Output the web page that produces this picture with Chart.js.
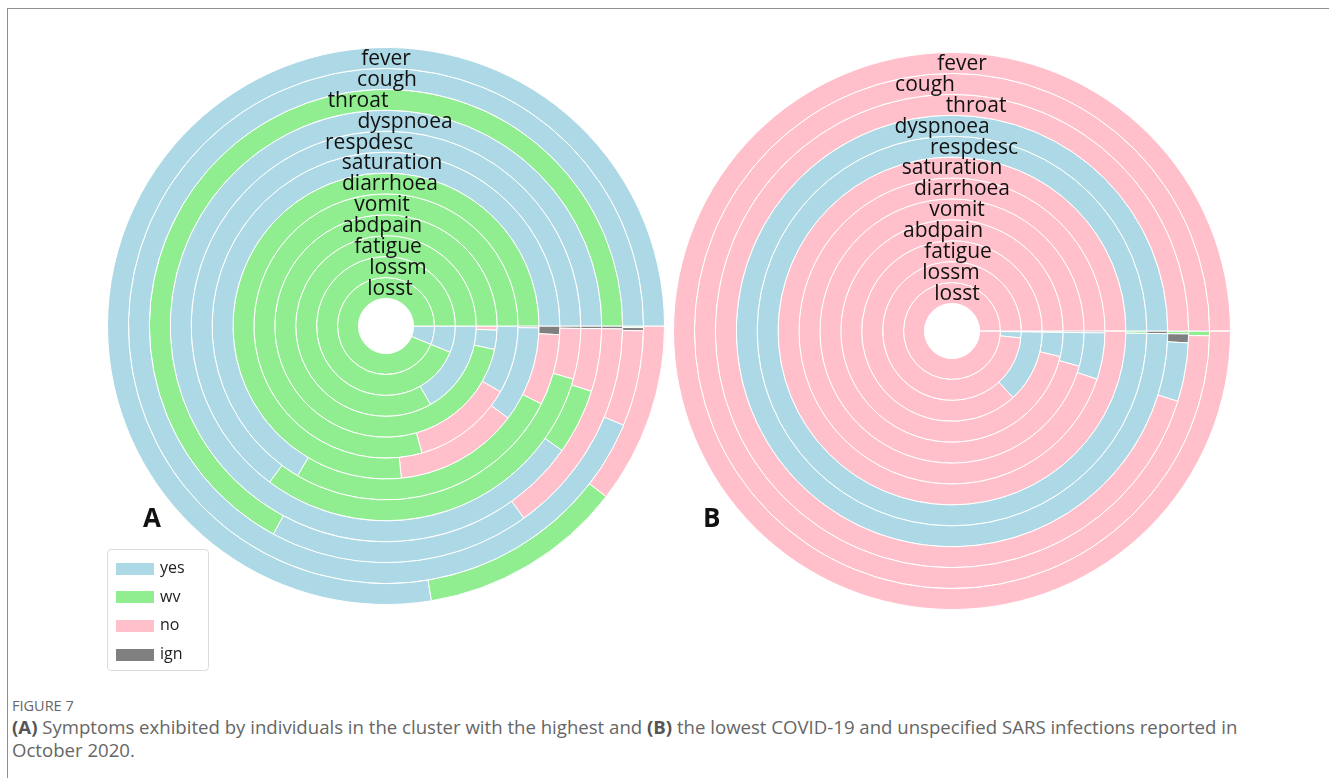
<!DOCTYPE html>
<html>
<head>
<meta charset="utf-8">
<script src="https://cdn.jsdelivr.net/npm/chart.js@4.4.1/dist/chart.umd.min.js"></script>
<style>
  body { margin: 0; width: 1329px; height: 778px; background: #fff; overflow: hidden; position: relative; font-family: "Open Sans", sans-serif; }
  .frame { position: absolute; left: 7px; top: 8px; width: 1400px; height: 900px; border: 1px solid #8f8f8f; }
  canvas { position: absolute; }
  #chartA { left: 86px; top: 26px; }
  #chartB { left: 652px; top: 31px; }
  .panel { position: absolute; font-weight: 700; font-size: 26px; color: #111; }
  .legend { position: absolute; left: 107px; top: 549px; width: 100px; height: 120px; border: 1px solid #dcdcdc; border-radius: 4px; background: #fff; }
  .legend div { position: absolute; left: 8px; height: 14px; font-size: 16px; line-height: 14px; color: #222; }
  .legend span { display: inline-block; width: 38px; height: 12px; margin-right: 6px; vertical-align: middle; }
  .fig { position: absolute; left: 12px; top: 696px; font-size: 14.5px; color: #666; }
  .cap { position: absolute; left: 12px; top: 715px; font-size: 18.6px; line-height: 23px; color: #666; white-space: nowrap; }
  .cap b { color: #555; }
</style>
</head>
<body>
<div class="frame"></div>
<canvas id="chartA" width="600" height="600"></canvas>
<canvas id="chartB" width="600" height="600"></canvas>
<div class="panel" style="left:143px; top:499px;">A</div>
<div class="panel" style="left:703px; top:499px;">B</div>
<div class="legend" id="legend"></div>
<div class="fig">FIGURE 7</div>
<div class="cap"><b>(A)</b> Symptoms exhibited by individuals in the cluster with the highest and <b>(B)</b> the lowest COVID-19 and unspecified SARS infections reported in<br>October 2020.</div>
<script>
// rings, outermost first
const rings = ["fever", "cough", "throat", "dyspnoea", "respdesc", "saturation",
  "diarrhoea", "vomit", "abdpain", "fatigue", "lossm", "losst"];
const categories = ["yes", "wv", "no", "ign"];

// cluster A (highest), share of individuals in %
const yesA = [77.6, 93.7, 17.8, 90.2, 64.8, 66.5, 10.1, 8.3, 2.8, 16.8, 6.2, 6.2];
const wvA = [11.9, 0.1, 67.1, 4.9, 30.8, 26.1, 76.6, 79.4, 96.6, 83.2, 93.8, 93.8];
const noA = [10.5, 6.0, 14.9, 4.7, 4.2, 6.6, 13.1, 12.3, 0.6, 0, 0, 0];
const ignA = [0, 0.2, 0.2, 0.2, 0.2, 0.8, 0.2, 0, 0, 0, 0, 0];

// cluster B (lowest)
const yesB = [0, 0, 4.0, 99.8, 99.8, 0, 4.9, 4.1, 3.5, 13.0, 1.4, 0];
const wvB = [0, 0.3, 0.2, 0, 0.2, 0, 0, 0, 0.2, 0.2, 0, 0];
const noB = [100, 99.7, 95.2, 0, 0, 100, 94.9, 95.7, 96.3, 86.8, 98.4, 100];
const ignB = [0, 0, 0.6, 0.2, 0, 0, 0.2, 0.2, 0, 0, 0.2, 0];

const colours = { yes: "#add8e6", wv: "#90ee90", no: "#ffc0cb", ign: "#808080" };

// horizontal nudge of each ring name
const labelShiftA = [0, 1, -28, 19, -17, 6, 4, -4, -4, 2, 12, 4];
const labelShiftB = [10, -27, 24, -10, 22, 0, 10, 5, -9, 6, -1, 5];

function ringDatasets(series) {
  return rings.map((name, i) => {
    // smallest first, drawn clockwise from 3 o'clock -> biggest leads anticlockwise
    const parts = categories
      .map((c, k) => ({ c: c, v: series[k][i] }))
      .filter((p) => p.v > 0)
      .sort((a, b) => a.v - b.v);
    return {
      label: name,
      data: parts.map((p) => p.v),
      backgroundColor: parts.map((p) => colours[p.c]),
      borderColor: "#ffffff",
      borderWidth: 1,
    };
  });
}

const ringLabels = {
  id: "ringLabels",
  afterDatasetsDraw(chart, args, opts) {
    const ctx = chart.ctx;
    ctx.save();
    ctx.font = '21px "Open Sans"';
    ctx.fillStyle = "#111";
    ctx.textAlign = "center";
    ctx.textBaseline = "middle";
    chart.data.datasets.forEach((ds, i) => {
      const arc = chart.getDatasetMeta(i).data[0];
      const r = (arc.innerRadius + arc.outerRadius) / 2;
      ctx.fillText(ds.label, arc.x + opts.shift[i], arc.y - r + 1);
    });
    ctx.restore();
  },
};

function sunburst(el, series, shift) {
  return new Chart(document.getElementById(el), {
    type: "doughnut",
    data: { labels: categories, datasets: ringDatasets(series) },
    options: {
      responsive: false,
      animation: false,
      events: [],
      rotation: 90,
      radius: 278.5,
      cutout: "9.9%",
      layout: { padding: 0 },
      plugins: {
        legend: { display: false },
        tooltip: { enabled: false },
        ringLabels: { shift: shift },
      },
    },
    plugins: [ringLabels],
  });
}

sunburst("chartA", [yesA, wvA, noA, ignA], labelShiftA);
sunburst("chartB", [yesB, wvB, noB, ignB], labelShiftB);

// legend
const legend = document.getElementById("legend");
categories.forEach((c, k) => {
  const row = document.createElement("div");
  row.style.top = 10 + k * 28.7 + "px";
  row.innerHTML = '<span style="background:' + colours[c] + '"></span>' + c;
  legend.appendChild(row);
});
</script>
</body>
</html>
